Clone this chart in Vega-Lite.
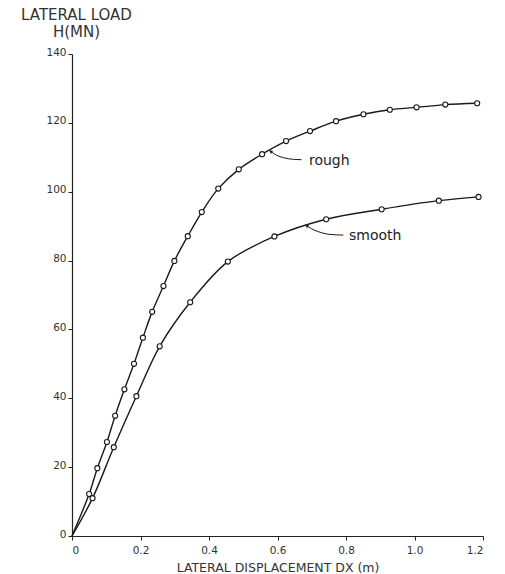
{
  "$schema": "https://vega.github.io/schema/vega-lite/v6.json",
  "width": 411,
  "height": 482,
  "autosize": {"type": "none"},
  "padding": {"left": 72, "top": 54, "right": 22, "bottom": 38},
  "background": "white",
  "config": {
    "view": {"stroke": null},
    "font": "DejaVu Sans",
    "axis": {
      "grid": false,
      "domainColor": "#222",
      "domainWidth": 1.2,
      "tickColor": "#222",
      "tickSize": 4,
      "labelColor": "#333",
      "labelFont": "DejaVu Sans",
      "labelFontSize": 10.5,
      "titleColor": "#333",
      "titleFont": "DejaVu Sans",
      "titleFontWeight": "normal"
    }
  },
  "datasets": {
    "curves": [
      {"series": "rough", "dx": 0, "h": 0, "marker": false},
      {"series": "rough", "dx": 0.050, "h": 12.2, "marker": true},
      {"series": "rough", "dx": 0.074, "h": 19.7, "marker": true},
      {"series": "rough", "dx": 0.102, "h": 27.3, "marker": true},
      {"series": "rough", "dx": 0.126, "h": 34.9, "marker": true},
      {"series": "rough", "dx": 0.153, "h": 42.6, "marker": true},
      {"series": "rough", "dx": 0.181, "h": 50.0, "marker": true},
      {"series": "rough", "dx": 0.207, "h": 57.6, "marker": true},
      {"series": "rough", "dx": 0.234, "h": 65.1, "marker": true},
      {"series": "rough", "dx": 0.267, "h": 72.6, "marker": true},
      {"series": "rough", "dx": 0.299, "h": 79.9, "marker": true},
      {"series": "rough", "dx": 0.338, "h": 87.1, "marker": true},
      {"series": "rough", "dx": 0.379, "h": 94.1, "marker": true},
      {"series": "rough", "dx": 0.427, "h": 100.9, "marker": true},
      {"series": "rough", "dx": 0.487, "h": 106.5, "marker": true},
      {"series": "rough", "dx": 0.555, "h": 110.9, "marker": true},
      {"series": "rough", "dx": 0.625, "h": 114.7, "marker": true},
      {"series": "rough", "dx": 0.695, "h": 117.6, "marker": true},
      {"series": "rough", "dx": 0.771, "h": 120.5, "marker": true},
      {"series": "rough", "dx": 0.851, "h": 122.5, "marker": true},
      {"series": "rough", "dx": 0.928, "h": 123.8, "marker": true},
      {"series": "rough", "dx": 1.006, "h": 124.5, "marker": true},
      {"series": "rough", "dx": 1.090, "h": 125.3, "marker": true},
      {"series": "rough", "dx": 1.183, "h": 125.7, "marker": true},
      {"series": "smooth", "dx": 0, "h": 0, "marker": false},
      {"series": "smooth", "dx": 0.060, "h": 11.0, "marker": true},
      {"series": "smooth", "dx": 0.122, "h": 25.8, "marker": true},
      {"series": "smooth", "dx": 0.188, "h": 40.6, "marker": true},
      {"series": "smooth", "dx": 0.256, "h": 55.1, "marker": true},
      {"series": "smooth", "dx": 0.345, "h": 67.9, "marker": true},
      {"series": "smooth", "dx": 0.455, "h": 79.7, "marker": true},
      {"series": "smooth", "dx": 0.591, "h": 87.0, "marker": true},
      {"series": "smooth", "dx": 0.742, "h": 92.0, "marker": true},
      {"series": "smooth", "dx": 0.904, "h": 94.9, "marker": true},
      {"series": "smooth", "dx": 1.071, "h": 97.4, "marker": true},
      {"series": "smooth", "dx": 1.187, "h": 98.5, "marker": true}
    ],
    "leaders": [
      {"label": "rough", "dx": 0.578, "h": 111.9},
      {"label": "rough", "dx": 0.597, "h": 110.6},
      {"label": "rough", "dx": 0.617, "h": 109.9},
      {"label": "rough", "dx": 0.646, "h": 109.4},
      {"label": "rough", "dx": 0.670, "h": 109.3},
      {"label": "smooth", "dx": 0.683, "h": 90.3},
      {"label": "smooth", "dx": 0.700, "h": 89.2},
      {"label": "smooth", "dx": 0.719, "h": 88.4},
      {"label": "smooth", "dx": 0.753, "h": 87.6},
      {"label": "smooth", "dx": 0.792, "h": 87.4}
    ],
    "arrows": [
      {"label": "rough", "dx": 0.580, "h": 111.7, "angle": 303},
      {"label": "smooth", "dx": 0.685, "h": 90.1, "angle": 305}
    ],
    "labels": [
      {"label": "rough", "dx": 0.689, "h": 108.9},
      {"label": "smooth", "dx": 0.806, "h": 87.1}
    ]
  },
  "encoding": {
    "x": {
      "field": "dx",
      "type": "quantitative",
      "scale": {"domain": [0, 1.2], "nice": false, "zero": true},
      "axis": {
        "values": [0, 0.2, 0.4, 0.6, 0.8, 1.0, 1.2],
        "labelExpr": "datum.value == 0 ? '0' : format(datum.value, '.1f')",
        "title": "LATERAL DISPLACEMENT DX (m)",
        "titleFontSize": 12.5,
        "titlePadding": 6,
        "labelPadding": 5
      }
    },
    "y": {
      "field": "h",
      "type": "quantitative",
      "scale": {"domain": [0, 140], "nice": false},
      "axis": {
        "values": [0, 20, 40, 60, 80, 100, 120, 140],
        "title": ["LATERAL LOAD", "H(MN)"],
        "titleFontSize": 15,
        "titleAngle": 0,
        "titleAlign": "center",
        "titleBaseline": "top",
        "titleX": 4,
        "titleY": -47,
        "titleLineHeight": 17,
        "labelBaseline": "middle",
        "labelOffset": -2,
        "labelPadding": 2
      }
    }
  },
  "layer": [
    {
      "data": {"name": "curves"},
      "mark": {"type": "line", "color": "#1a1a1a", "strokeWidth": 1.4, "interpolate": "catmull-rom"},
      "encoding": {"detail": {"field": "series"}}
    },
    {
      "data": {"name": "curves"},
      "transform": [{"filter": "datum.marker"}],
      "mark": {"type": "point", "shape": "circle", "filled": true, "fill": "white", "stroke": "#1a1a1a", "strokeWidth": 1.1, "size": 26, "opacity": 1}
    },
    {
      "data": {"name": "leaders"},
      "mark": {"type": "line", "color": "#1a1a1a", "strokeWidth": 1, "interpolate": "monotone"},
      "encoding": {"detail": {"field": "label"}}
    },
    {
      "data": {"name": "arrows"},
      "mark": {"type": "point", "shape": "triangle-up", "filled": true, "color": "#1a1a1a", "size": 14, "opacity": 1},
      "encoding": {"angle": {"field": "angle", "type": "quantitative", "scale": null}}
    },
    {
      "data": {"name": "labels"},
      "mark": {"type": "text", "align": "left", "baseline": "middle", "font": "DejaVu Sans", "fontSize": 14, "color": "#222", "dx": 1},
      "encoding": {"text": {"field": "label"}}
    }
  ]
}
